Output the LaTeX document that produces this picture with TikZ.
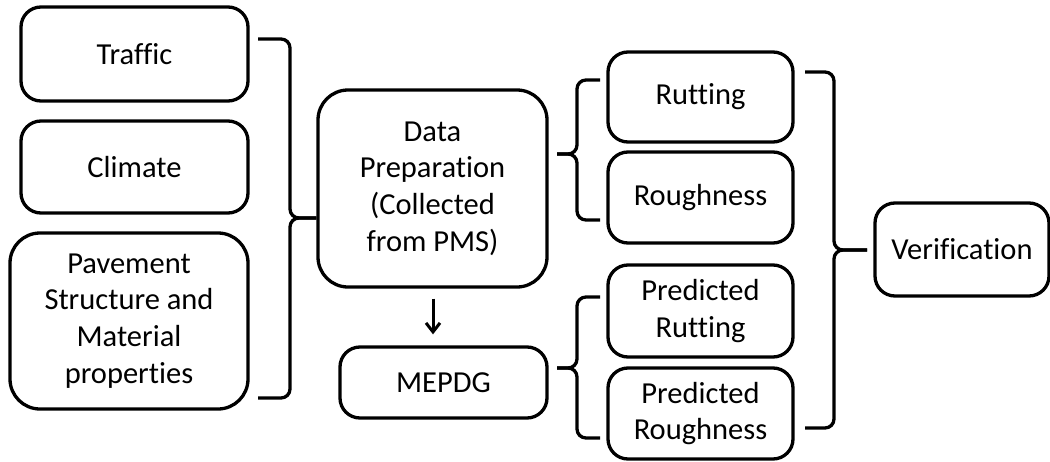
\documentclass[tikz,border=0pt]{standalone}
\usepackage{fontspec}
\setmainfont{Carlito}[Ligatures={NoCommon}]
\usetikzlibrary{arrows.meta,calc}
\begin{document}
\begin{tikzpicture}[x=1pt,y=-1pt,
  box/.style={draw=black,line width=3.3pt,rounded corners=20pt,align=center,inner sep=0pt,
     font=\fontsize{30.5}{36.7}\selectfont},
  brace/.style={draw=black,line width=3.3pt,rounded corners=9pt},
  conn/.style={draw=black,line width=3pt,-{Straight Barb[length=9pt,width=14pt,line width=3pt]}}]
\useasboundingbox (0,0) rectangle (1050,461);
\node[box,minimum width=227pt,minimum height=94pt] (traffic) at (134.5,54) {Traffic};
\node[box,minimum width=227pt,minimum height=92pt] (climate) at (134.5,167) {Climate};
\node[box,rounded corners=30pt,minimum width=238pt,minimum height=176pt] (pavement) at (129,321) {Pavement\\Structure and\\Material\\properties};
\node[box,rounded corners=30pt,minimum width=229pt,minimum height=197pt] (data) at (432.5,188.5) {Data\\Preparation\\(Collected\\from PMS)};
\node[box,minimum width=207pt,minimum height=71pt] (mepdg) at (443.5,382.5) {MEPDG};
\node[box,minimum width=185pt,minimum height=90pt] (rut) at (700.5,97) {Rutting};
\node[box,minimum width=185pt,minimum height=91pt] (rough) at (700.5,197.5) {Roughness};
\node[box,minimum width=185pt,minimum height=92pt] (prut) at (700.5,311) {Predicted\\Rutting};
\node[box,minimum width=185pt,minimum height=91pt] (prough) at (700.5,413.5) {Predicted\\Roughness};
\node[box,minimum width=174pt,minimum height=93pt] (verif) at (962,249.5) {Verification};
% brace 1
\coordinate (b1t) at (258,39);
\coordinate (b1b) at (258,398);
\coordinate (b1m) at (data.west |- 0,218);
\draw[brace] (b1t) -| (290,218) -- (b1m);
\draw[brace] (b1m) -- (290,218) |- (b1b);
% brace 2
\coordinate (b2t) at (600,80);
\coordinate (b2b) at (600,220);
\coordinate (b2m) at (557,154);
\draw[brace] (b2t) -| (577,154) -- (b2m);
\draw[brace] (b2m) -- (577,154) |- (b2b);
% brace 3
\coordinate (b3t) at (600,297);
\coordinate (b3b) at (600,438);
\coordinate (b3m) at (557,368);
\draw[brace] (b3t) -| (577,368) -- (b3m);
\draw[brace] (b3m) -- (577,368) |- (b3b);
% brace 4
\coordinate (b4t) at (805,72);
\coordinate (b4b) at (805,428);
\coordinate (b4m) at (867,250);
\draw[brace] (b4t) -| (834,250) -- (b4m);
\draw[brace] (b4m) -- (834,250) |- (b4b);
% arrow
\draw[conn,shorten <=10pt,shorten >=11pt] (data.south -| 433,0) -- (mepdg.north -| 433,0);
\end{tikzpicture}
\end{document}
